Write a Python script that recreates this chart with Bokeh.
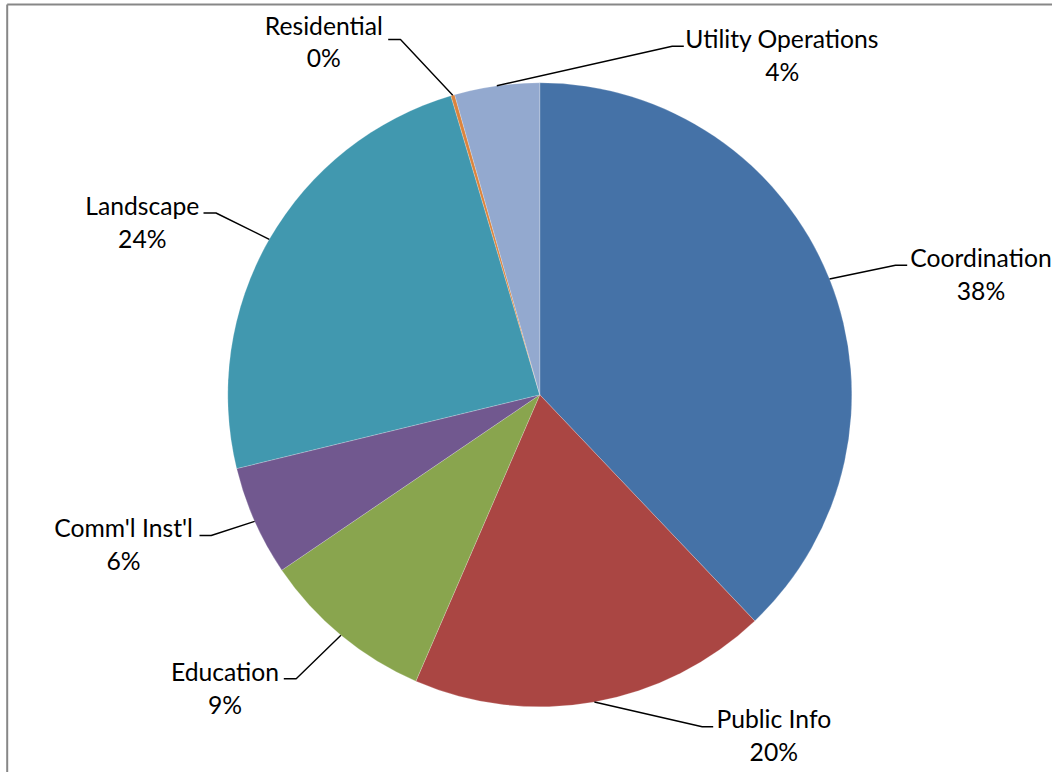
import numpy as np
from bokeh.plotting import figure
from bokeh.models import Range1d
from bokeh.core.properties import value
from bokeh.embed import file_html
from bokeh.resources import INLINE

# ---- data (clockwise from 12 o'clock) ----
categories = ["Coordination", "Public Info", "Education", "Comm'l Inst'l",
              "Landscape", "Residential", "Utility Operations"]
shares = [37.9, 18.6, 9.0, 5.7, 24.2, 0.2, 4.4]          # slice sizes
pct_labels = ["38%", "20%", "9%", "6%", "24%", "0%", "4%"]  # printed labels
colors = ["#4572A7", "#AA4643", "#89A54E", "#71588F", "#4198AF", "#DB843D", "#93A9CF"]

# ---- layout (screen pixels) ----
SCREEN_H = 783
OX, OY = -4, -3          # where the figure lands on the page (with its negative margin)
W, H = 1056, 776
CX, CY_S, R = 539.3, 395.3, 312
TEXT_SHIFT = -8.0        # baseline correction for the text glyphs

# label layout: text centre x, baseline y of first line, elbow point, end of horizontal stub
label_layout = {
    "Coordination":       dict(tx=980.5, ty=266.0, ex=895.0, ey=265.7, hx=906.7, hy=265.7),
    "Public Info":        dict(tx=773.3, ty=727.3, ex=701.7, ey=727.3, hx=712.7, hy=727.3),
    "Education":          dict(tx=224.5, ty=680.0, ex=295.7, ey=679.3, hx=283.3, hy=679.3),
    "Comm'l Inst'l":      dict(tx=123.0, ty=536.0, ex=210.7, ey=536.0, hx=199.0, hy=536.0),
    "Landscape":          dict(tx=141.8, ty=214.0, ex=215.5, ey=213.5, hx=203.0, hy=213.5),
    "Residential":        dict(tx=323.3, ty=33.5,  ex=400.0, ey=40.0,  hx=387.7, hy=40.0),
    "Utility Operations": dict(tx=781.7, ty=47.0,  ex=671.7, ey=46.7,  hx=683.3, hy=46.7),
}
LINE2 = 32.5

def fy(sy):
    return SCREEN_H - sy

p = figure(width=W, height=H, output_backend="svg", toolbar_location=None,
           x_range=Range1d(OX, OX + W), y_range=Range1d(fy(OY + H), fy(OY)),
           min_border=0, outline_line_color=None)
p.margin = (-4, 0, 0, -4)
p.axis.visible = False
p.grid.visible = False
p.background_fill_color = "white"
p.border_fill_color = "white"

# chart area border (top and left edges visible)
p.line([6.7, 1070], [fy(5.0), fy(5.0)], line_color="#878787", line_width=2)
p.line([6.7, 6.7], [fy(5.0), fy(800)], line_color="#878787", line_width=2)

fr = np.array(shares) / np.sum(shares)
cum_end = np.cumsum(fr)
cum_start = cum_end - fr
start_angle = np.pi / 2 - cum_end * 2 * np.pi
end_angle = np.pi / 2 - cum_start * 2 * np.pi
cy = fy(CY_S)

p.wedge(x=CX, y=cy, radius=R, start_angle=start_angle, end_angle=end_angle,
        fill_color=colors, line_color="white", line_width=0.4, line_alpha=0.5)

mid = np.pi / 2 - (cum_start + cum_end) * np.pi
xs, ys = [], []
tx, ty1, ty2, names, pcts = [], [], [], [], []
for i, c in enumerate(categories):
    L = label_layout[c]
    sx = CX + R * np.cos(mid[i])
    sy = cy + R * np.sin(mid[i])
    xs.append([sx, L["ex"], L["hx"]])
    ys.append([sy, fy(L["ey"]), fy(L["hy"])])
    base = L["ty"] + TEXT_SHIFT
    tx.append(L["tx"]); ty1.append(fy(base)); ty2.append(fy(base + LINE2))
    names.append(c); pcts.append(pct_labels[i])

p.multi_line(xs=xs, ys=ys, line_color="black", line_width=1.4)

font = value("Lato")
p.text(x=tx, y=ty1, text=names, text_align="center", text_baseline="alphabetic",
       text_font=font, text_font_size="24.7px", text_color="black")
p.text(x=tx, y=ty2, text=pcts, text_align="center", text_baseline="alphabetic",
       text_font=font, text_font_size="24.7px", text_color="black")

open("out.html", "w").write(file_html(p, INLINE))
